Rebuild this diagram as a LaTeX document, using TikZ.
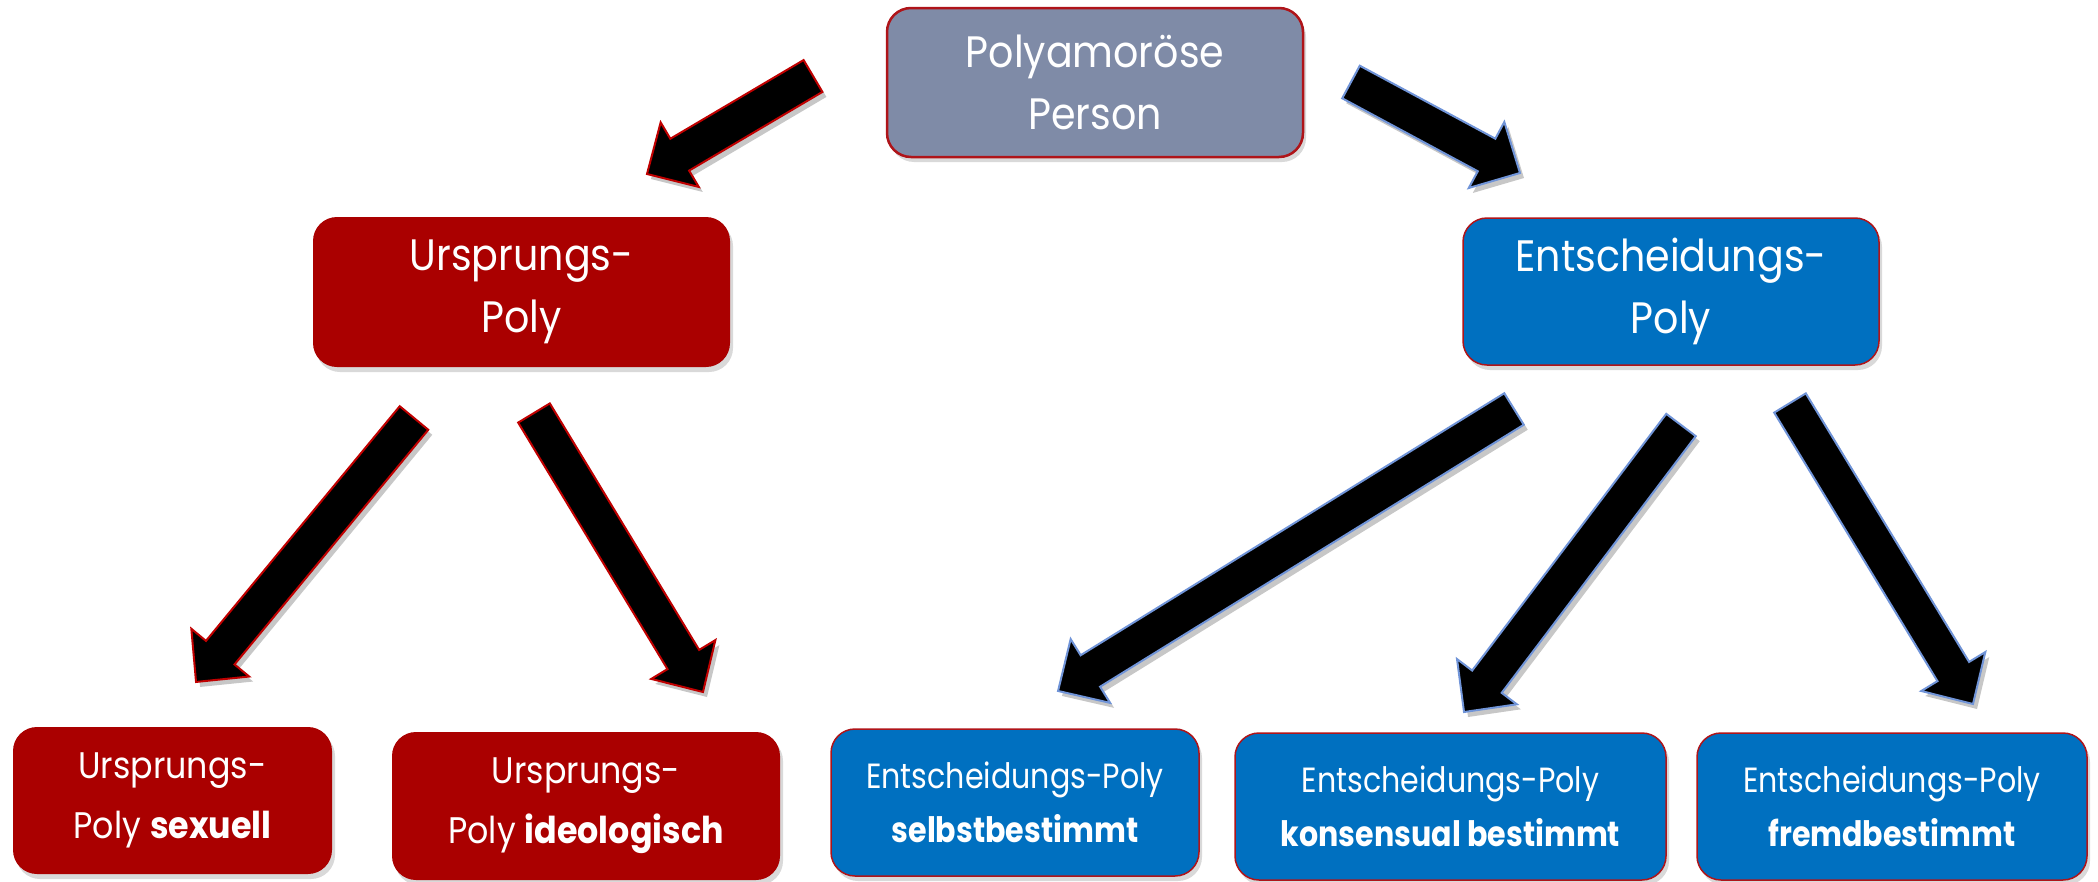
\documentclass[tikz,border=0pt]{standalone}
\usepackage{fontspec}
\newfontfamily\mainf{Poppins}[FakeStretch=0.9]
\newfontfamily\condf{Poppins}[FakeStretch=0.86]
\usetikzlibrary{shadows}
\definecolor{slate}{RGB}{127,139,167}
\definecolor{dred}{RGB}{170,0,0}
\definecolor{bordred}{RGB}{175,20,25}
\definecolor{mblue}{RGB}{0,112,192}
\definecolor{arrred}{RGB}{192,0,0}
\definecolor{arrblue}{RGB}{112,148,216}
\tikzset{
  box/.style={rounded corners=24pt, inner sep=0pt, align=center, text=white,
    drop shadow={shadow xshift=3pt, shadow yshift=-5pt, opacity=0.3}},
  bigtext/.style={font=\mainf\fontsize{44}{62}\selectfont},
  redtext/.style={font=\mainf\fontsize{37}{60}\selectfont},
  bluetext/.style={font=\condf\fontsize{35}{54}\selectfont},
  arrowbody/.style={fill=black, line width=2pt, line join=miter},
}
\newcommand{\blockarrow}[3]{%
  \path (#1); \pgfgetlastxy{\ax}{\ay}%
  \path (#2); \pgfgetlastxy{\bx}{\by}%
  \pgfmathsetmacro{\ang}{atan2(\by-\ay,\bx-\ax)}%
  \pgfmathsetmacro{\len}{veclen(\bx-\ax,\by-\ay)}%
  \begin{scope}[shift={(#1)}, xshift=4pt, yshift=-5pt, rotate=\ang, x=1pt, y=1pt]
    \fill[black, opacity=0.22] (0,-18.5) -- (\len-38,-18.5) -- (\len-38,-37.5) -- (\len,0) -- (\len-38,37.5) -- (\len-38,18.5) -- (0,18.5) -- cycle;
  \end{scope}
  \begin{scope}[shift={(#1)}, rotate=\ang, x=1pt, y=1pt]
    \draw[arrowbody, draw=#3] (0,-18.5) -- (\len-38,-18.5) -- (\len-38,-37.5) -- (\len,0) -- (\len-38,37.5) -- (\len-38,18.5) -- (0,18.5) -- cycle;
  \end{scope}}
\begin{document}
\begin{tikzpicture}[x=1pt, y=-1pt]
\useasboundingbox (0,0) rectangle (2098,881);
% boxes
\node[box, bigtext, fill=slate, draw=bordred, line width=2.5pt, minimum width=416pt, minimum height=149pt] (top) at (1095,82.5) {Polyamoröse\\Person};
\node[box, bigtext, fill=dred, minimum width=417pt, minimum height=150pt] (urs) at (521.5,292) {Ursprungs-\\Poly};
\node[box, bigtext, fill=mblue, draw=bordred, line width=1.5pt, minimum width=416pt, minimum height=147pt] (ent) at (1671,291.5) {Entscheidungs-\\Poly};
\node[box, redtext, fill=dred, minimum width=319pt, minimum height=147pt] (sex) at (172.5,800.5) {Ursprungs-\\Poly \textbf{sexuell}};
\node[box, redtext, fill=dred, minimum width=388pt, minimum height=148pt] (ideo) at (586,806) {Ursprungs-\\Poly \textbf{ideologisch}};
\node[box, bluetext, fill=mblue, draw=bordred, line width=1.5pt, minimum width=368pt, minimum height=147pt] (selbst) at (1015,802.5) {Entscheidungs-Poly\\\textbf{selbstbestimmt}};
\node[box, bluetext, fill=mblue, draw=bordred, line width=1.5pt, minimum width=431pt, minimum height=147pt] (kons) at (1450.5,806.5) {Entscheidungs-Poly\\\textbf{konsensual bestimmt}};
\node[box, bluetext, fill=mblue, draw=bordred, line width=1.5pt, minimum width=390pt, minimum height=147pt] (fremd) at (1892,806.5) {Entscheidungs-Poly\\\textbf{fremdbestimmt}};
% arrow end points
\coordinate (a1s) at (813,76);   \coordinate (a1e) at (647,174);
\coordinate (a2s) at (1351,82);  \coordinate (a2e) at (1520,173);
\coordinate (a3s) at (414,418);  \coordinate (a3e) at (196,682);
\coordinate (a4s) at (534,413);  \coordinate (a4e) at (703,692);
\coordinate (a5s) at (1514,409); \coordinate (a5e) at (1058,691);
\coordinate (a6s) at (1681,425); \coordinate (a6e) at (1464,712);
\coordinate (a7s) at (1790,403); \coordinate (a7e) at (1973,704);
\blockarrow{a1s}{a1e}{arrred}
\blockarrow{a2s}{a2e}{arrblue}
\blockarrow{a3s}{a3e}{arrred}
\blockarrow{a4s}{a4e}{arrred}
\blockarrow{a5s}{a5e}{arrblue}
\blockarrow{a6s}{a6e}{arrblue}
\blockarrow{a7s}{a7e}{arrblue}
\end{tikzpicture}
\end{document}
